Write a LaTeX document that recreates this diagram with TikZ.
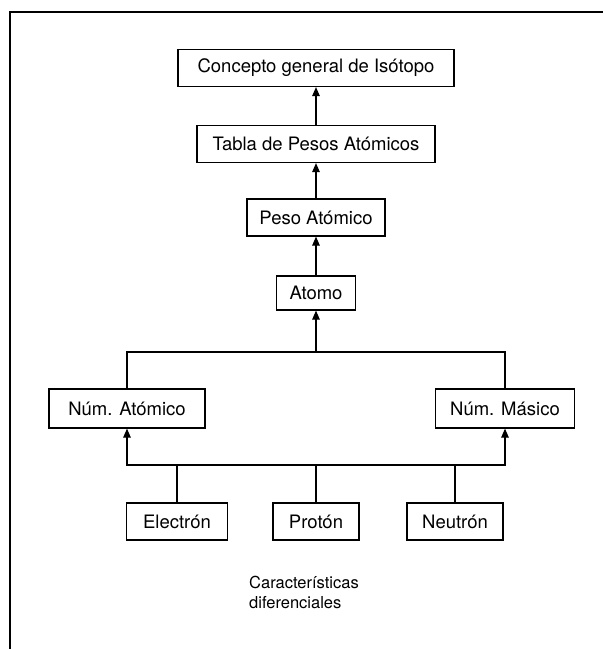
\documentclass[tikz,border=0pt]{standalone}
\usepackage{fontspec}
\setmainfont{TeX Gyre Heros}
\usetikzlibrary{arrows.meta}

\tikzset{
  box/.style={draw=black,line width=1.2pt,inner sep=0pt,minimum height=37pt,
    font=\fontsize{18.5}{22}\selectfont},
  link/.style={draw=black,line width=1.2pt},
  up/.style={link,-{Triangle[width=7.5pt,length=9pt]}}
}

\begin{document}
\begin{tikzpicture}[x=1pt,y=1pt]
\useasboundingbox (0.000000,0.000000) rectangle (603.000000,-649.000000);
% Drawing frame
\draw[link] (603.000000,-12.000000) -- (10.000000,-12.000000) -- (10.000000,-649.000000);
% Drawing boxes
\node[box,minimum width=276pt] (concepto) at (316.000000,-68.000000) {Concepto general de Isótopo};
\node[box,minimum width=238pt] (tabla) at (316.000000,-144.000000) {Tabla de Pesos Atómicos};
\node[box,minimum width=138pt] (peso) at (316.000000,-217.500000) {Peso Atómico};
\node[box,minimum width=79pt,minimum height=34pt] (atomo) at (316.000000,-293.000000) {Atomo};
\node[box,minimum width=156pt,minimum height=39pt] (numat) at (127.000000,-408.500000) {Núm. Atómico};
\node[box,minimum width=139pt,minimum height=39pt] (nummas) at (505.000000,-408.500000) {Núm. Másico};
\node[box,minimum width=101pt] (electron) at (177.000000,-521.500000) {Electrón};
\node[box,minimum width=86pt] (proton) at (316.000000,-521.500000) {Protón};
\node[box,minimum width=96pt] (neutron) at (455.000000,-521.500000) {Neutrón};
% Done with boxes; drawing links
\draw[up] (tabla) -- (concepto);
\draw[up] (peso) -- (tabla);
\draw[up] (atomo) -- (peso);
\coordinate (topbar) at (316.000000,-352.000000);
\coordinate (lowbar) at (316.000000,-465.000000);
\draw[link] (numat.north) |- (topbar) -| (nummas.north);
\draw[up] (topbar) -- (atomo.south);
\draw[up] (lowbar) -| (numat.south);
\draw[up] (lowbar) -| (nummas.south);
\draw[link] (electron.north) -- (electron.north |- lowbar);
\draw[link] (proton.north) -- (lowbar);
\draw[link] (neutron.north) -- (neutron.north |- lowbar);
% Done with links; drawing caption
\node[anchor=north west,align=left,inner sep=0pt,font=\fontsize{16.5}{20}\selectfont] (caption) at (249.000000,-576.000000) {Características\\diferenciales};
\end{tikzpicture}
\end{document}
